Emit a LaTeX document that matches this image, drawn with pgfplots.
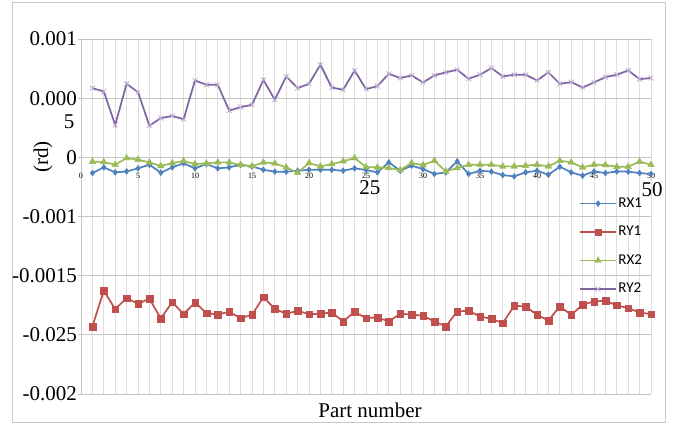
\documentclass[border=0pt]{standalone}
\usepackage{fontspec}
\setmainfont{Liberation Serif}
\newfontfamily\legendfont{Carlito}
\usepackage{pgfplots}
\usepackage{pgfplotstable}
\pgfplotsset{compat=1.18}
\definecolor{cb}{HTML}{4F81BD}
\definecolor{cr}{HTML}{C0504D}
\definecolor{cg}{HTML}{9BBB59}
\definecolor{cp}{HTML}{8064A2}
\definecolor{lav}{HTML}{BBAED3}
\definecolor{gridh}{RGB}{196,196,196}
\definecolor{gridv}{RGB}{222,222,222}
\definecolor{border}{RGB}{200,200,200}

\pgfplotstableread{
x y
1 -0.000133
2 -0.0000848
3 -0.000127
4 -0.000119
5 -0.0000932
6 -0.0000622
7 -0.000130
8 -0.0000848
9 -0.0000509
10 -0.0000932
11 -0.0000565
12 -0.0000932
13 -0.0000848
14 -0.0000622
15 -0.0000763
16 -0.000105
17 -0.000121
18 -0.000121
19 -0.000113
20 -0.000105
21 -0.000105
22 -0.000105
23 -0.000113
24 -0.0000932
25 -0.000107
26 -0.000127
27 -0.0000424
28 -0.000113
29 -0.0000706
30 -0.0000989
31 -0.000141
32 -0.000127
33 -0.0000339
34 -0.000141
35 -0.000113
36 -0.000121
37 -0.000150
38 -0.000161
39 -0.000127
40 -0.000113
41 -0.000147
42 -0.0000791
43 -0.000127
44 -0.000155
45 -0.000119
46 -0.000133
47 -0.000119
48 -0.000121
49 -0.000133
50 -0.000141
}\rxone

\pgfplotstableread{
x y
1 -0.001429
2 -0.001127
3 -0.001283
4 -0.001189
5 -0.001237
6 -0.001195
7 -0.001362
8 -0.001223
9 -0.001325
10 -0.001226
11 -0.001316
12 -0.001328
13 -0.001305
14 -0.001359
15 -0.001331
16 -0.001181
17 -0.001280
18 -0.001322
19 -0.001297
20 -0.001325
21 -0.001322
22 -0.001311
23 -0.001387
24 -0.001305
25 -0.001359
26 -0.001353
27 -0.001387
28 -0.001322
29 -0.001328
30 -0.001339
31 -0.001387
32 -0.001429
33 -0.001302
34 -0.001297
35 -0.001345
36 -0.001364
37 -0.001401
38 -0.001254
39 -0.001260
40 -0.001331
41 -0.001379
42 -0.001260
43 -0.001331
44 -0.001246
45 -0.001218
46 -0.001212
47 -0.001251
48 -0.001274
49 -0.001311
50 -0.001325
}\ryone

\pgfplotstableread{
x y
1 -0.0000367
2 -0.0000396
3 -0.0000622
4 -0.0000057
5 -0.0000198
6 -0.0000424
7 -0.0000735
8 -0.0000480
9 -0.0000311
10 -0.0000565
11 -0.0000509
12 -0.0000424
13 -0.0000424
14 -0.0000650
15 -0.0000735
16 -0.0000424
17 -0.0000509
18 -0.0000848
19 -0.000130
20 -0.0000480
21 -0.0000763
22 -0.0000565
23 -0.0000339
24 -0.0000057
25 -0.0000819
26 -0.0000848
27 -0.0000904
28 -0.000107
29 -0.0000480
30 -0.0000650
31 -0.0000283
32 -0.000119
33 -0.0000904
34 -0.0000622
35 -0.0000622
36 -0.0000622
37 -0.0000763
38 -0.0000763
39 -0.0000706
40 -0.0000622
41 -0.0000763
42 -0.0000283
43 -0.0000424
44 -0.0000848
45 -0.0000622
46 -0.0000650
47 -0.0000791
48 -0.0000791
49 -0.0000367
50 -0.0000622
}\rxtwo

\pgfplotstableread{
x y
1 0.000585
2 0.000556
3 0.000274
4 0.000621
5 0.000551
6 0.000268
7 0.000331
8 0.000350
9 0.000322
10 0.000650
11 0.000613
12 0.000613
13 0.000395
14 0.000424
15 0.000444
16 0.000655
17 0.000486
18 0.000684
19 0.000585
20 0.000621
21 0.000783
22 0.000590
23 0.000571
24 0.000734
25 0.000576
26 0.000602
27 0.000706
28 0.000670
29 0.000692
30 0.000633
31 0.000692
32 0.000718
33 0.000740
34 0.000664
35 0.000698
36 0.000754
37 0.000684
38 0.000698
39 0.000698
40 0.000650
41 0.000718
42 0.000621
43 0.000636
44 0.000590
45 0.000633
46 0.000678
47 0.000698
48 0.000734
49 0.000661
50 0.000670
}\rytwo

\begin{document}
\begin{tikzpicture}[x=1pt,y=1pt]
\path[use as bounding box] (0,0) rectangle (678,424);
\fill[white] (0,0) rectangle (678,424);
\draw[border, line width=0.8pt] (12,2) rectangle (665,422);
\begin{axis}[
  at={(81pt,30pt)}, anchor=south west,
  scale only axis, width=570pt, height=355pt,
  xmin=0, xmax=50, ymin=-0.002, ymax=0.001,
  scaled y ticks=false, scaled x ticks=false,
  axis x line=middle, axis y line=left,
  axis line style={-, draw=gridh, line width=0.8pt},
  every inner x axis line/.append style={-},
  every outer y axis line/.append style={-},
  hide obscured x ticks=false, hide obscured y ticks=false,
  xtick={0,5,...,50},
  minor xtick={1,...,50},
  xmajorgrids, xminorgrids, ymajorgrids,
  x grid style={draw=gridv, line width=0.8pt},
  minor x grid style={draw=gridv, line width=0.8pt},
  major x grid style={draw=gridv, line width=0.8pt},
  y grid style={draw=gridh, line width=0.8pt},
  xtick style={draw=none},
  minor tick length=0pt,
  ytick={-0.002,-0.0015,-0.001,-0.0005,0,0.0005,0.001},
  yticklabels={-0.002,-0.025,-0.0015,-0.001,0,0.000,0.001},
  ytick style={draw=gridh, line width=0.8pt},
  tick align=outside, major tick length=3pt,
  yticklabel style={font=\fontsize{21}{21}\selectfont, anchor=east, inner sep=0pt, xshift=-1pt},
  xticklabel style={font=\fontsize{8}{8}\selectfont, yshift=-9pt},
  /pgf/number format/assume math mode=true,
  legend style={at={(0.872,0.563)}, anchor=north west, draw=none, fill=none,
    inner sep=1pt, row sep=12pt, font=\legendfont\fontsize{15}{15}\selectfont,
    nodes={inner sep=1.5pt, text height=10.5pt, text depth=3pt, font=\legendfont\fontsize{15}{15}\selectfont}},
  legend cell align=left,
  legend image code/.code={\draw[mark repeat=2,mark phase=2,#1] plot coordinates {(0pt,0pt) (18pt,0pt) (36pt,0pt)};},
  clip=false,
]
\addplot[cb, line width=1.7pt, mark=diamond*, mark size=3pt, mark options={solid, line width=0.4pt, fill=cb}] table {\rxone};
\addlegendentry{RX1}
\addplot[cr, line width=1.7pt, mark=square*, mark size=3.3pt, mark options={solid, line width=0.4pt, fill=cr}] table {\ryone};
\addlegendentry{RY1}
\addplot[cg, line width=1.7pt, mark=triangle*, mark size=3.8pt, mark options={solid, line width=0.4pt, fill=cg}] table {\rxtwo};
\addlegendentry{RX2}
\addplot[cp, line width=1.7pt, mark=x, mark size=3.4pt, mark options={solid, draw=lav, line width=0.8pt}] table {\rytwo};
\addlegendentry{RY2}
\node[font=\fontsize{21}{21}\selectfont] at (axis cs:25.35,-0.00026) {25};
\node[font=\fontsize{21}{21}\selectfont] at (axis cs:50.1,-0.00027) {50};
\end{axis}
\node[anchor=east, font=\fontsize{21}{21}\selectfont] at (78,302) {5};
\node[rotate=90, font=\fontsize{21}{21}\selectfont] at (43,267) {(rd)};
\node[font=\fontsize{21}{21}\selectfont] at (370,14) {Part number};
\end{tikzpicture}
\end{document}
